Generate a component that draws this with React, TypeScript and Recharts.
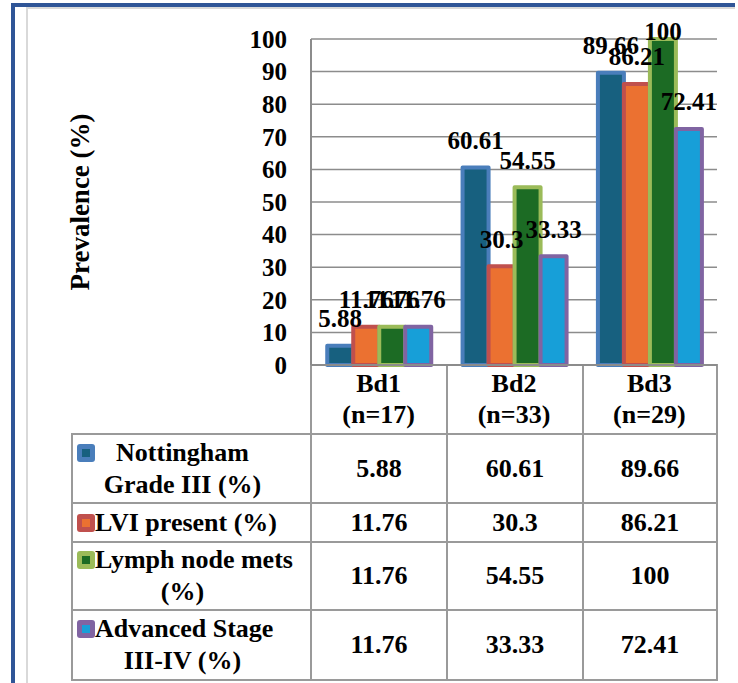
import React from 'react';
import { BarChart, Bar, XAxis, YAxis, CartesianGrid, LabelList } from 'recharts';

const categories = ['Bd1', 'Bd2', 'Bd3'];
const sampleSizes = ['(n=17)', '(n=33)', '(n=29)'];
const nottinghamGrade3 = [5.88, 60.61, 89.66];
const lviPresent = [11.76, 30.3, 86.21];
const lymphNodeMets = [11.76, 54.55, 100];
const advancedStage = [11.76, 33.33, 72.41];
const yTicks = [0, 10, 20, 30, 40, 50, 60, 70, 80, 90, 100];

const seriesNames = [
  ['Nottingham', 'Grade III (%)'],
  ['LVI present (%)'],
  ['Lymph node mets', '(%)'],
  ['Advanced Stage', 'III-IV (%)'],
];
const seriesValues = [nottinghamGrade3, lviPresent, lymphNodeMets, advancedStage];
const seriesKeys = ['s1', 's2', 's3', 's4'];
const fills = ['#17607F', '#EB7131', '#1C6B24', '#179FD8'];
const strokes = ['#4A7EBB', '#C0504D', '#9BBB59', '#8064A2'];

const data = categories.map((c, i) => ({
  name: c,
  n: sampleSizes[i],
  s1: nottinghamGrade3[i],
  s2: lviPresent[i],
  s3: lymphNodeMets[i],
  s4: advancedStage[i],
}));

const FONT = '"Liberation Serif", "Times New Roman", serif';
const GRID = '#8c8c8c';
const TABLE_LINE = '#9a9a9a';

// table layout (px)
const colX = [72, 311, 447, 583, 717];
const rowY = [365, 434, 503, 542, 610, 680];

function CategoryTick(props: any) {
  const { x, y, payload, index } = props;
  return (
    <text textAnchor="middle" fontFamily={FONT} fontWeight="bold" fontSize={26} fill="#000">
      <tspan x={x} y={y + 27}>{payload.value}</tspan>
      <tspan x={x} y={y + 58}>{sampleSizes[index]}</tspan>
    </text>
  );
}

function ValueLabel(props: any) {
  const { x, y, width, value } = props;
  const cy = Math.max(y - 27, 31);
  return (
    <text
      x={x + width / 2}
      y={cy}
      textAnchor="middle"
      dominantBaseline="central"
      fontFamily={FONT}
      fontWeight="bold"
      fontSize={25}
      fill="#000"
    >
      {value}
    </text>
  );
}

function YTitle(props: any) {
  const vb = props.viewBox || { y: 39, height: 326 };
  const cx = 80;
  const cy = vb.y + vb.height / 2;
  return (
    <text
      x={cx}
      y={cy}
      transform={`rotate(-90 ${cx} ${cy})`}
      textAnchor="middle"
      dominantBaseline="central"
      fontFamily={FONT}
      fontWeight="bold"
      fontSize={27}
      fill="#000"
    >
      Prevalence (%)
    </text>
  );
}

function Cell({ c, r, children }: any) {
  return (
    <div
      style={{
        position: 'absolute',
        left: colX[c] - 1,
        top: rowY[r] - 1,
        width: colX[c + 1] - colX[c] + 2,
        height: rowY[r + 1] - rowY[r] + 2,
        border: `2px solid ${TABLE_LINE}`,
        boxSizing: 'border-box',
      }}
    >
      {children}
    </div>
  );
}

function DataTable() {
  const cells: any[] = [];
  // header row: only category columns
  for (let c = 1; c < 4; c++) cells.push(<Cell key={`h${c}`} c={c} r={0} />);
  seriesNames.forEach((lines, s) => {
    const r = s + 1;
    const h = rowY[r + 1] - rowY[r];
    const firstLineCenter = h / 2 - ((lines.length - 1) * 32) / 2;
    cells.push(
      <Cell key={`n${s}`} c={0} r={r}>
        <div
          style={{
            position: 'absolute',
            left: 4,
            top: firstLineCenter - 10,
            width: 18,
            height: 18,
            borderRadius: 3,
            background: strokes[s],
            display: 'flex',
            alignItems: 'center',
            justifyContent: 'center',
          }}
        >
          <div style={{ width: 8, height: 8, background: fills[s] }} />
        </div>
        <div
          style={{
            position: 'absolute',
            left: 22,
            right: 40,
            top: 0,
            bottom: 0,
            display: 'flex',
            flexDirection: 'column',
            justifyContent: 'center',
          }}
        >
          {lines.map((l, i) => (
            <div key={i} style={{ textAlign: 'center', whiteSpace: 'nowrap', lineHeight: '32px' }}>
              {l}
            </div>
          ))}
        </div>
      </Cell>
    );
    seriesValues[s].forEach((v, i) => {
      cells.push(
        <Cell key={`v${s}${i}`} c={i + 1} r={r}>
          <div
            style={{
              width: '100%',
              height: '100%',
              display: 'flex',
              alignItems: 'center',
              justifyContent: 'center',
            }}
          >
            {v}
          </div>
        </Cell>
      );
    });
  });
  return (
    <div style={{ fontFamily: FONT, fontWeight: 'bold', fontSize: 26, color: '#000' }}>{cells}</div>
  );
}

export default function App() {
  return (
    <div
      style={{
        position: 'absolute',
        left: 0,
        top: 0,
        width: 738,
        height: 683,
        background: '#fff',
        overflow: 'hidden',
      }}
    >
      {/* frame */}
      <div style={{ position: 'absolute', left: 11, top: 3, width: 724, height: 4, background: '#2F5597' }} />
      <div style={{ position: 'absolute', left: 11, top: 3, width: 4, height: 680, background: '#2F5597' }} />
      <div style={{ position: 'absolute', left: 26, top: 7, width: 709, height: 2, background: '#d9d9d9' }} />
      <div style={{ position: 'absolute', left: 26, top: 7, width: 2, height: 676, background: '#d9d9d9' }} />

      <DataTable />

      <div style={{ position: 'absolute', left: 0, top: 0 }}>
        <BarChart
          width={738}
          height={434}
          data={data}
          margin={{ top: 39, right: 21, left: 0, bottom: 0 }}
          barCategoryGap="12%"
          barGap={0}
        >
          <CartesianGrid vertical={false} stroke={GRID} strokeWidth={1.5} />
          <XAxis
            dataKey="name"
            height={69}
            interval={0}
            tickLine={false}
            tickSize={0}
            tickMargin={0}
            axisLine={{ stroke: GRID, strokeWidth: 2 }}
            tick={<CategoryTick />}
          />
          <YAxis
            width={311}
            domain={[0, 100]}
            ticks={yTicks}
            interval={0}
            tickLine={false}
            tickSize={0}
            tickMargin={24}
            axisLine={{ stroke: GRID, strokeWidth: 2 }}
            tick={{ fontFamily: FONT, fontWeight: 'bold', fontSize: 25, fill: '#000' }}
            label={<YTitle />}
          />
          {seriesKeys.map((k, s) => (
            <Bar
              key={k}
              dataKey={k}
              fill={fills[s]}
              stroke={strokes[s]}
              strokeWidth={4}
              strokeLinejoin="round"
              isAnimationActive={false}
            >
              <LabelList dataKey={k} content={<ValueLabel />} />
            </Bar>
          ))}
        </BarChart>
      </div>
    </div>
  );
}
